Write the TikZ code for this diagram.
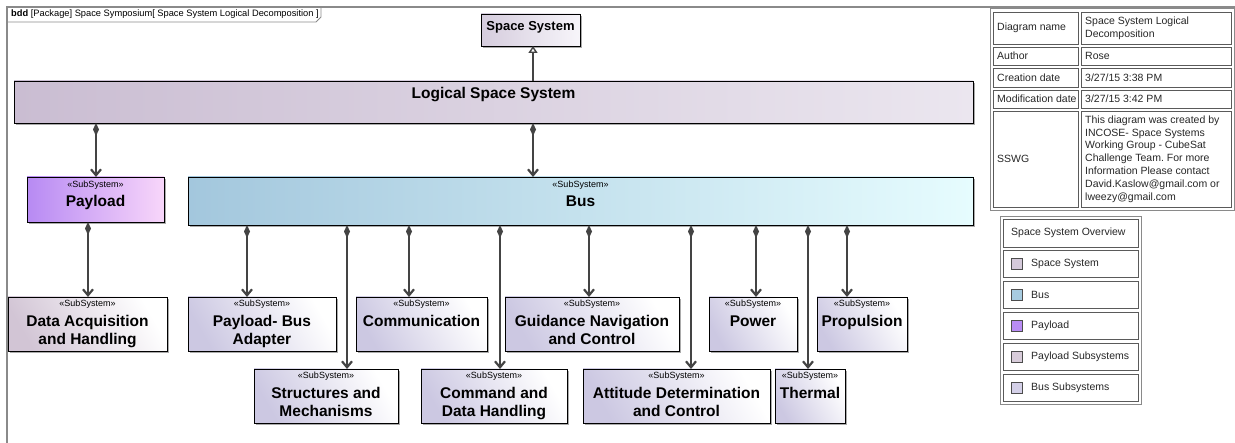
\documentclass[tikz,border=0pt]{standalone}
\usepackage{fontspec}
\setmainfont{Liberation Sans}
\frenchspacing
\usetikzlibrary{arrows.meta,shadows}
\definecolor{lnk}{HTML}{444444}
\definecolor{sysL}{HTML}{D5CCDD}
\definecolor{sysR}{HTML}{F7F5FA}
\definecolor{logL}{HTML}{CABDD2}
\definecolor{logR}{HTML}{EBE6EF}
\definecolor{payL}{HTML}{B78AF3}
\definecolor{payR}{HTML}{F8D6FA}
\definecolor{busL}{HTML}{A3C7DD}
\definecolor{busR}{HTML}{E6FCFE}
\definecolor{psub}{HTML}{D2C5D5}
\definecolor{bsub}{HTML}{CCC8E2}
\definecolor{frm}{HTML}{8A8A8A}
\definecolor{cellc}{HTML}{5A5A5A}
\definecolor{swSys}{HTML}{D4C9DA}
\definecolor{swBus}{HTML}{A7CBE0}
\definecolor{swPay}{HTML}{B98CF5}
\definecolor{swPsub}{HTML}{D8CCDA}
\definecolor{swBsub}{HTML}{D4D0E8}
\tikzset{
  box/.style={draw=black, line width=0.9pt, inner sep=0pt, outer sep=0pt, anchor=north west,
    drop shadow={shadow xshift=2pt,shadow yshift=-2pt,fill=black!55,opacity=0.6}},
  sysbox/.style={box, left color=sysL, right color=sysR},
  logbox/.style={box, left color=logL, right color=logR},
  paybox/.style={box, left color=payL, right color=payR},
  busbox/.style={box, left color=busL, right color=busR},
  psubbox/.style={box, top color=white, bottom color=psub, shading angle=-60},
  bsubbox/.style={box, top color=white, bottom color=bsub, shading angle=-60},
  lbl/.style={anchor=north, inner sep=0pt, align=center, font=\fontsize{15.5}{18}\selectfont\bfseries},
  comp/.style={draw=lnk, line width=2.2pt, {Diamond[length=13pt,width=6pt]}-{Straight Barb[length=6pt,width=10pt]}},
  gen/.style={draw=lnk, line width=2.2pt, -{Triangle[open,length=7pt,width=9pt,fill=white,line width=1.4pt]}},
  cell/.style={draw=cellc, line width=0.8pt, anchor=north west, inner sep=0pt, outer sep=0pt},
  ctext/.style={anchor=west, inner sep=0pt, align=left, text=black!85, font=\fontsize{10.5}{12.8}\selectfont},
  swatch/.style={draw=black!70, line width=0.6pt, minimum width=11pt, minimum height=11pt, inner sep=0pt},
}
\newcommand\stereo{{\fontsize{9}{10}\selectfont\mdseries «SubSystem»}}
\newcommand\ssbox[8]{% name x1 y1 x2 y2 style shift text
  \pgfmathsetmacro\bw{#4-#2}\pgfmathsetmacro\bh{#5-#3}
  \node[#6, minimum width=\bw pt, minimum height=\bh pt] (#1) at (#2,#3) {};
  \node[lbl] (#1-t) at ([yshift=-#7pt]#1.north) {#8};}
\newcommand\tcell[6]{% name x1 y1 x2 y2 text
  \pgfmathsetmacro\bw{#4-#2}\pgfmathsetmacro\bh{#5-#3}
  \node[cell, minimum width=\bw pt, minimum height=\bh pt] (#1) at (#2,#3) {};
  \node[ctext] (#1-t) at ([xshift=4pt]#1.west) {#6};}
\newcommand\lrow[5]{% name y1 y2 color text
  \pgfmathsetmacro\bh{#3-#2}
  \node[cell, minimum width=135pt, minimum height=\bh pt] (#1) at (1003,#2) {};
  \node[swatch, fill=#4] (#1-s) at ([xshift=14pt]#1.west) {};
  \node[ctext] (#1-t) at ([xshift=28pt]#1.west) {#5};}
\begin{document}
\begin{tikzpicture}[x=1pt,y=-1pt]
\useasboundingbox (0,0) rectangle (1235,443);
% frame
\draw[frm, line width=1.2pt] (1235,7) -- (7,7) -- (7,443);
\draw[frm, line width=0.9pt] (7,7) -- (321,7) -- (321,17) -- (316,22) -- (7,22);
\node[anchor=west, inner sep=0pt, font=\fontsize{9.3}{10}\selectfont] (frametab) at (11,14.5)
  {\textbf{bdd} [Package] Space Symposium[ Space System Logical Decomposition ]};

% blocks
\ssbox{spsys}{481}{14}{580}{46}{sysbox}{7}{\fontsize{13}{15}\selectfont Space System}
\ssbox{logical}{14}{81}{973}{123}{logbox}{6}{Logical Space System}
\ssbox{payload}{27}{177}{164}{222}{paybox}{4}{\stereo\\[1pt]Payload}
\ssbox{bus}{188}{177}{973}{225}{busbox}{4}{\stereo\\[1pt]Bus}
\ssbox{dah}{8}{297}{167}{351}{psubbox}{3}{\stereo\\[2pt]Data Acquisition\\and Handling}
\ssbox{pba}{188}{297}{336}{351}{bsubbox}{3}{\stereo\\[2pt]Payload- Bus\\Adapter}
\ssbox{comm}{356}{297}{487}{351}{bsubbox}{3}{\stereo\\[2pt]Communication}
\ssbox{gnc}{505}{297}{679}{351}{bsubbox}{3}{\stereo\\[2pt]Guidance Navigation\\and Control}
\ssbox{power}{709}{297}{797}{351}{bsubbox}{3}{\stereo\\[2pt]Power}
\ssbox{prop}{817}{297}{907}{351}{bsubbox}{3}{\stereo\\[2pt]Propulsion}
\ssbox{struct}{254}{369}{398}{423}{bsubbox}{3}{\stereo\\[2pt]Structures and\\Mechanisms}
\ssbox{cdh}{421}{369}{567}{423}{bsubbox}{3}{\stereo\\[2pt]Command and\\Data Handling}
\ssbox{adc}{583}{369}{770}{423}{bsubbox}{3}{\stereo\\[2pt]Attitude Determination\\and Control}
\ssbox{thermal}{775}{369}{845}{423}{bsubbox}{3}{\stereo\\[2pt]Thermal}

% connector x positions
\coordinate (xa) at (533,0);
\coordinate (xp) at (96,0);
\coordinate (xd) at (88,0);
\coordinate (x1) at (247,0);
\coordinate (x2) at (347,0);
\coordinate (x3) at (409,0);
\coordinate (x4) at (500,0);
\coordinate (x5) at (589,0);
\coordinate (x6) at (691,0);
\coordinate (x7) at (756,0);
\coordinate (x8) at (808,0);
\coordinate (x9) at (847,0);

\draw[gen] (logical.north -| xa) -- (spsys.south -| xa);
\draw[comp] (logical.south -| xp) -- (payload.north -| xp);
\draw[comp] (logical.south -| xa) -- (bus.north -| xa);
\draw[comp] (payload.south -| xd) -- (dah.north -| xd);
\draw[comp] (bus.south -| x1) -- (pba.north -| x1);
\draw[comp] (bus.south -| x2) -- (struct.north -| x2);
\draw[comp] (bus.south -| x3) -- (comm.north -| x3);
\draw[comp] (bus.south -| x4) -- (cdh.north -| x4);
\draw[comp] (bus.south -| x5) -- (gnc.north -| x5);
\draw[comp] (bus.south -| x6) -- (adc.north -| x6);
\draw[comp] (bus.south -| x7) -- (power.north -| x7);
\draw[comp] (bus.south -| x8) -- (thermal.north -| x8);
\draw[comp] (bus.south -| x9) -- (prop.north -| x9);

% info table
\node[draw=frm, line width=0.9pt, anchor=north west, inner sep=0pt, minimum width=244pt, minimum height=202pt] (table) at (990,8) {};
\tcell{n1}{993}{12}{1078}{44}{Diagram name}
\tcell{v1}{1081}{12}{1231}{44}{Space System Logical\\Decomposition}
\tcell{n2}{993}{47}{1078}{65}{Author}
\tcell{v2}{1081}{47}{1231}{65}{Rose}
\tcell{n3}{993}{68}{1078}{87}{Creation date}
\tcell{v3}{1081}{68}{1231}{87}{3/27/15 3:38 PM}
\tcell{n4}{993}{90}{1078}{108}{Modification date}
\tcell{v4}{1081}{90}{1231}{108}{3/27/15 3:42 PM}
\tcell{n5}{993}{111}{1078}{207}{SSWG}
\tcell{v5}{1081}{111}{1231}{207}{This diagram was created by\\INCOSE- Space Systems\\Working Group - CubeSat\\Challenge Team. For more\\Information Please contact\\David.Kaslow@gmail.com or\\lweezy@gmail.com}

% legend
\node[draw=frm, line width=0.9pt, anchor=north west, inner sep=0pt, minimum width=141pt, minimum height=188pt] (legend) at (1000,216) {};
\node[cell, minimum width=135pt, minimum height=28pt] (lg0) at (1003,219) {};
\node[ctext] (lg0-t) at ([xshift=8pt]lg0.west) {Space System Overview};
\lrow{lg1}{250}{277}{swSys}{Space System}
\lrow{lg2}{281}{308}{swBus}{Bus}
\lrow{lg3}{312}{339}{swPay}{Payload}
\lrow{lg4}{343}{370}{swPsub}{Payload Subsystems}
\lrow{lg5}{374}{401}{swBsub}{Bus Subsystems}
\end{tikzpicture}
\end{document}
